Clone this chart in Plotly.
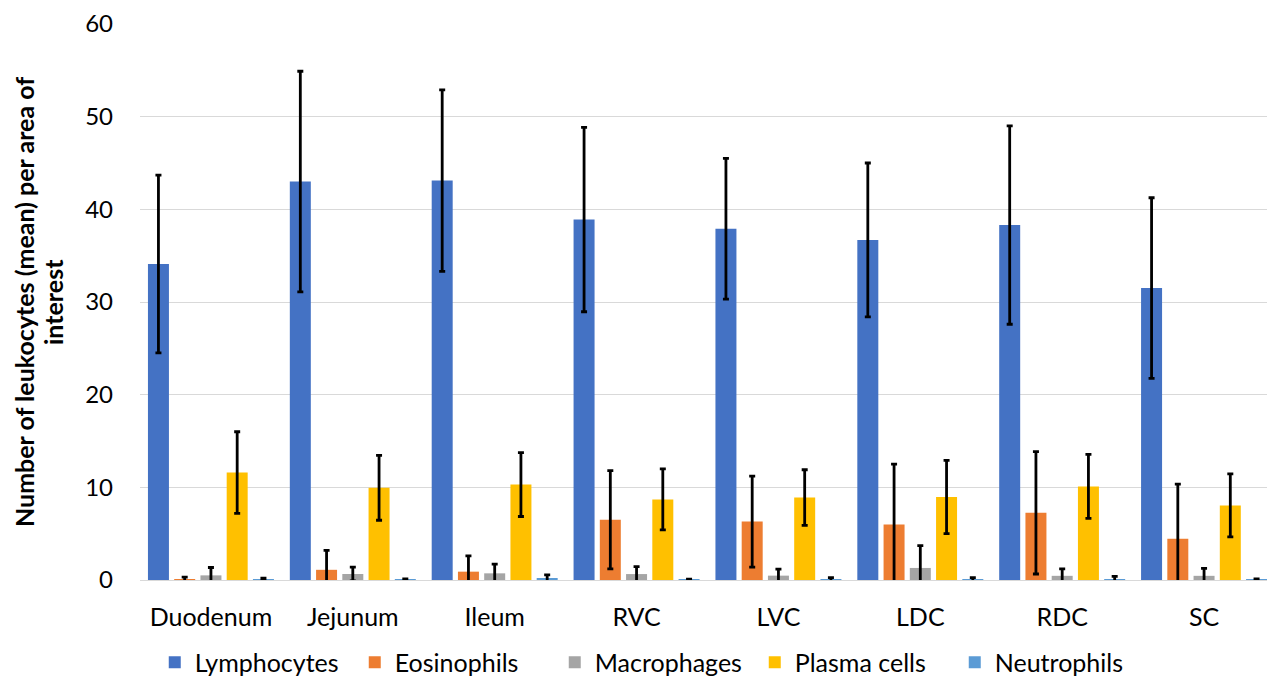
import plotly.graph_objects as go

categories = ["Duodenum", "Jejunum", "Ileum", "RVC", "LVC", "LDC", "RDC", "SC"]

series_names = ["Lymphocytes", "Eosinophils", "Macrophages", "Plasma cells", "Neutrophils"]

lymphocytes = [34.1, 43.0, 43.1, 38.9, 37.9, 36.7, 38.3, 31.5]
lymphocytes_err = [9.6, 11.9, 9.8, 9.95, 7.6, 8.3, 10.7, 9.75]

eosinophils = [0.05, 1.1, 0.9, 6.5, 6.3, 6.0, 7.25, 4.45]
eosinophils_err = [0.25, 2.1, 1.7, 5.3, 4.9, 6.5, 6.6, 5.9]

macrophages = [0.5, 0.65, 0.72, 0.64, 0.47, 1.3, 0.45, 0.45]
macrophages_err = [0.85, 0.75, 1.0, 0.8, 0.7, 2.4, 0.75, 0.8]

plasma_cells = [11.6, 9.95, 10.3, 8.7, 8.9, 8.95, 10.1, 8.05]
plasma_cells_err = [4.4, 3.5, 3.45, 3.3, 3.0, 3.95, 3.45, 3.4]

neutrophils = [0.05, 0.05, 0.2, 0.03, 0.05, 0.05, 0.1, 0.03]
neutrophils_err = [0.15, 0.08, 0.35, 0.05, 0.2, 0.2, 0.3, 0.08]

y_ticks = [0, 10, 20, 30, 40, 50, 60]

y_title_line1 = "Number of leukocytes (mean) per area of"
y_title_line2 = "interest"

colors = ["#4472C4", "#ED7D31", "#A5A5A5", "#FFC000", "#5B9BD5"]
values = [lymphocytes, eosinophils, macrophages, plasma_cells, neutrophils]
errors = [lymphocytes_err, eosinophils_err, macrophages_err, plasma_cells_err, neutrophils_err]

FONT = "Lato"

fig = go.Figure()
for name, vals, errs, col in zip(series_names, values, errors, colors):
    fig.add_trace(go.Bar(
        name=name,
        x=categories,
        y=vals,
        marker=dict(color=col, line=dict(width=0)),
        error_y=dict(type="data", array=errs, visible=True,
                     color="black", thickness=2.8, width=3),
    ))

# page body has an 8px margin; compensate so the plot area lands at x 140-1275, y 21-580
fig.update_layout(
    width=1267, height=672,
    barmode="group",
    bargap=0.075,
    bargroupgap=0.2,
    plot_bgcolor="white",
    paper_bgcolor="white",
    margin=dict(l=132, r=0, t=13, b=100),
    font=dict(family=FONT, size=24, color="black"),
    showlegend=True,
    legend=dict(orientation="h", x=0.013, xanchor="left",
                yref="container", y=0.026, yanchor="middle",
                font=dict(family=FONT, size=25, color="black"),
                itemwidth=30, entrywidth=155, entrywidthmode="pixels",
                traceorder="normal"),
    yaxis=dict(
        range=[0, 60],
        tickvals=y_ticks,
        showgrid=True, gridcolor="#D9D9D9", gridwidth=1,
        zeroline=False,
        showline=False,
        ticks="",
        ticklabelstandoff=26,
        ticklabeloverflow="allow",
        tickfont=dict(family=FONT, size=24, color="black"),
    ),
    xaxis=dict(
        showline=True, linecolor="#D9D9D9", linewidth=1,
        ticks="",
        ticklabelstandoff=15,
        tickfont=dict(family=FONT, size=25, color="black"),
    ),
    annotations=[
        dict(text="<b>" + y_title_line1 + "</b>", textangle=-90, xref="paper", yref="paper",
             x=0, y=0.5, xanchor="center", yanchor="middle", xshift=-116, showarrow=False,
             font=dict(family=FONT, size=25, color="black")),
        dict(text="<b>" + y_title_line2 + "</b>", textangle=-90, xref="paper", yref="paper",
             x=0, y=0.5, xanchor="center", yanchor="middle", xshift=-87, showarrow=False,
             font=dict(family=FONT, size=25, color="black")),
    ],
)

fig.write_html("out.html")
